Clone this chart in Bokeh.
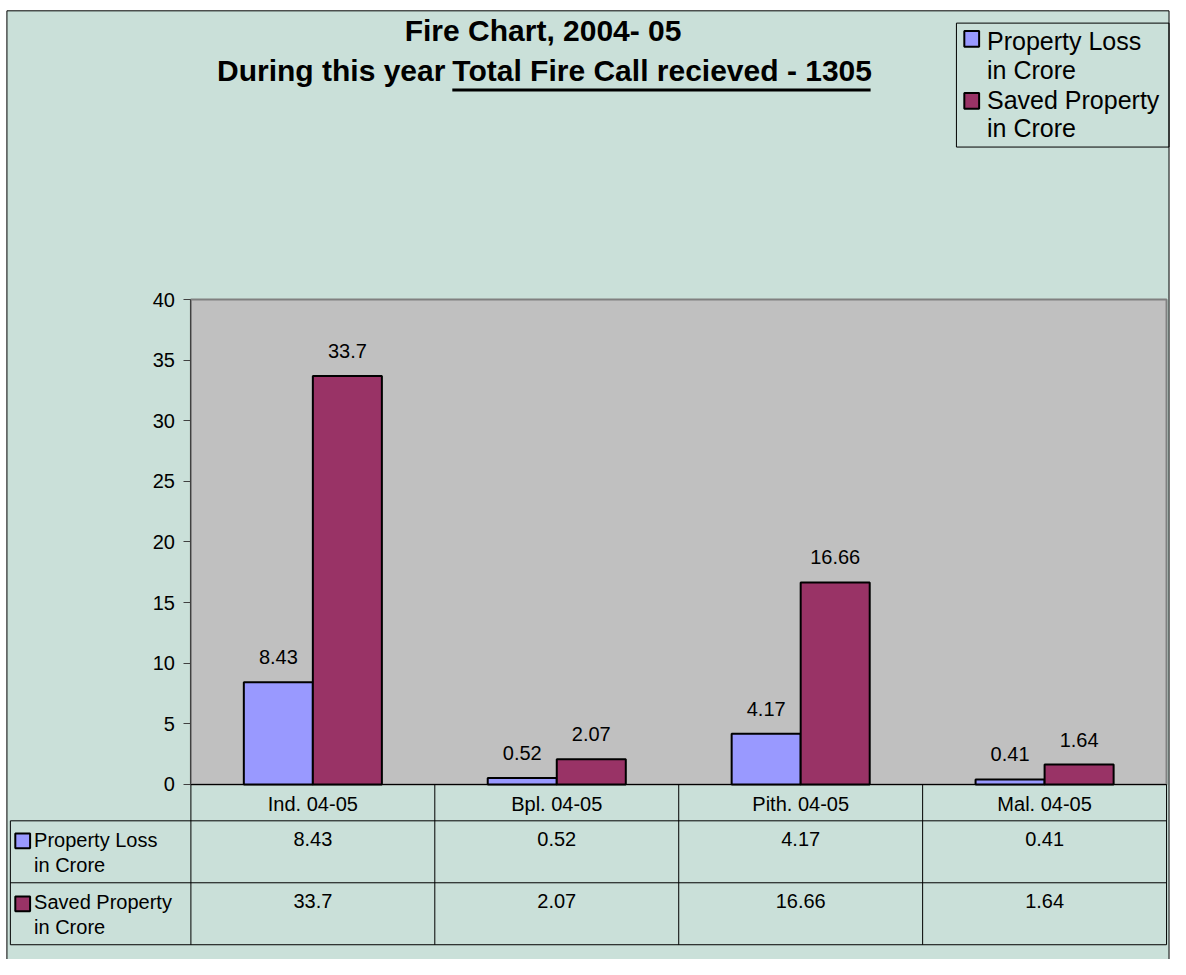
from bokeh.plotting import figure
from bokeh.models import ColumnDataSource, Range1d, FixedTicker
from bokeh.transform import dodge
from bokeh.core.properties import value
from bokeh.embed import file_html
from bokeh.resources import INLINE

# ---------------- data ----------------
categories = ["Ind. 04-05", "Bpl. 04-05", "Pith. 04-05", "Mal. 04-05"]
property_loss = [8.43, 0.52, 4.17, 0.41]
saved_property = [33.7, 2.07, 16.66, 1.64]
series_labels = [["Property Loss", "in Crore"], ["Saved Property", "in Crore"]]
y_ticks = [0, 5, 10, 15, 20, 25, 30, 35, 40]
y_max = 40
title_line1 = "Fire Chart, 2004- 05"
title_line2a = "During this year"
title_line2b = "Total Fire Call recieved - 1305"

# ---------------- layout (reference pixel frame) ----------------
W, H = 1170, 959                 # canvas size
REF_W, REF_H = 1186, 975         # layout below is given in this pixel frame
PA_L, PA_T, PA_R, PA_B = 193, 304, 1182, 797   # plot area edges
FONT = "Liberation Sans"
BG = "#CAE0D9"
PLOT_BG = "#C0C0C0"
COLORS = ["#9999FF", "#993366"]
BW = 0.283
n = len(categories)


def X(rx):
    """layout pixel -> data x (category units)"""
    return (rx - PA_L) / (PA_R - PA_L) * n


def Y(ry):
    """layout pixel -> data y (value units)"""
    return (PA_B - ry) / (PA_B - PA_T) * y_max


p = figure(width=W, height=H,
           x_range=Range1d(X(0), X(REF_W)),
           y_range=Range1d(Y(REF_H), Y(0)),
           output_backend="svg", toolbar_location=None, min_border=0)
p.background_fill_color = "white"
p.border_fill_color = "white"
p.outline_line_color = None
p.xgrid.visible = False
p.ygrid.visible = False

# chart area (teal) with its border
p.quad(left=[X(6.5)], right=[X(1184.5)], top=[Y(10.5)], bottom=[Y(REF_H + 20)],
       fill_color=BG, line_color="black", line_width=1)

# plot area
p.quad(left=[0], right=[n], bottom=[0], top=[y_max],
       fill_color=PLOT_BG, line_color="#808080", line_width=2)

# ---------------- axes ----------------
p.yaxis.fixed_location = 0
p.yaxis.bounds = (0, y_max)
p.yaxis.ticker = FixedTicker(ticks=y_ticks)
p.yaxis.axis_line_color = "#404040"
p.yaxis.major_tick_line_color = "#404040"
p.yaxis.major_tick_in = 0
p.yaxis.major_tick_out = 7
p.yaxis.minor_tick_line_color = None
p.yaxis.major_label_text_font = FONT
p.yaxis.major_label_text_font_size = "20px"
p.yaxis.major_label_text_color = "black"
p.yaxis.major_label_standoff = 9

cat_x = [i + 0.5 for i in range(n)]
p.xaxis.fixed_location = 0
p.xaxis.bounds = (0, n)
p.xaxis.ticker = FixedTicker(ticks=cat_x)
p.xaxis.major_label_overrides = {cx: c for cx, c in zip(cat_x, categories)}
p.xaxis.axis_line_color = "black"
p.xaxis.major_tick_line_color = None
p.xaxis.minor_tick_line_color = None
p.xaxis.major_label_text_font = FONT
p.xaxis.major_label_text_font_size = "20px"
p.xaxis.major_label_text_color = "black"
p.xaxis.major_label_standoff = 3

# ---------------- bars + data labels ----------------
src = ColumnDataSource(dict(
    xc=cat_x,
    loss=property_loss,
    saved=saved_property,
    loss_txt=[f"{v:g}" for v in property_loss],
    saved_txt=[f"{v:g}" for v in saved_property],
))

for field, off, col in [("loss", -BW / 2, COLORS[0]), ("saved", BW / 2, COLORS[1])]:
    xs = dodge("xc", off)
    p.vbar(x=xs, top=field, bottom=0, width=BW, source=src,
           fill_color=col, line_color="black", line_width=2)
    p.text(x=xs, y=field, text=field + "_txt", source=src,
           text_align="center", text_baseline="alphabetic", y_offset=-25,
           text_font=value(FONT), text_font_size="20px", text_color="black")


def txt(rx, ry, s, size=20, align="left", style="normal"):
    """ry = baseline position in layout px"""
    p.text(x=[X(rx)], y=[Y(ry)], text=[s], text_font=value(FONT),
           text_font_size=f"{size}px", text_align=align, text_baseline="alphabetic",
           y_offset=-round(0.36 * size), text_font_style=style, text_color="black")


def seg(rx0, ry0, rx1, ry1, color="black", w=1):
    p.segment(x0=[X(rx0)], y0=[Y(ry0)], x1=[X(rx1)], y1=[Y(ry1)],
              line_color=color, line_width=w)


def key(rx0, ry0, rx1, ry1, col):
    p.quad(left=[X(rx0)], right=[X(rx1)], top=[Y(ry0)], bottom=[Y(ry1)],
           fill_color=col, line_color="black",
           line_width=2 if col else 1, fill_alpha=1 if col else 0)


# ---------------- title ----------------
txt(550, 42, title_line1, size=30, align="center", style="bold")
txt(451, 82, title_line2a, size=30, align="right", style="bold")
txt(458, 82, title_line2b, size=30, align="left", style="bold")
seg(458, 91, 882, 91, w=3)

# ---------------- legend ----------------
key(969, 23, 1184.5, 149, None)
leg_key_y = [31, 94]
leg_txt_y = [[50, 80], [110, 139]]
for k in range(2):
    key(977, leg_key_y[k], 992, leg_key_y[k] + 16, COLORS[k])
    for j, s in enumerate(series_labels[k]):
        txt(1000, leg_txt_y[k][j], s, size=25)

# ---------------- data table ----------------
TBL_TOP, TBL_BOT = 834, 960
for ry in [TBL_TOP, 897, TBL_BOT]:
    seg(10, ry, PA_R, ry)
seg(10, TBL_TOP, 10, TBL_BOT)
p.segment(x0=list(range(n + 1)), y0=[0] * (n + 1),
          x1=list(range(n + 1)), y1=[Y(TBL_BOT)] * (n + 1),
          line_color="black", line_width=1)

tab_key_y = [847, 911]
tab_txt_y = [[861, 886], [924, 949]]
val_y = [860, 923]
series_values = [property_loss, saved_property]
for k in range(2):
    key(15, tab_key_y[k], 30, tab_key_y[k] + 15, COLORS[k])
    for j, s in enumerate(series_labels[k]):
        txt(34, tab_txt_y[k][j], s)
    p.text(x=cat_x, y=[Y(val_y[k])] * n, text=[f"{v:g}" for v in series_values[k]],
           text_font=value(FONT), text_font_size="20px", text_align="center",
           text_baseline="alphabetic", y_offset=-7, text_color="black")

open("out.html", "w").write(file_html(p, INLINE))
